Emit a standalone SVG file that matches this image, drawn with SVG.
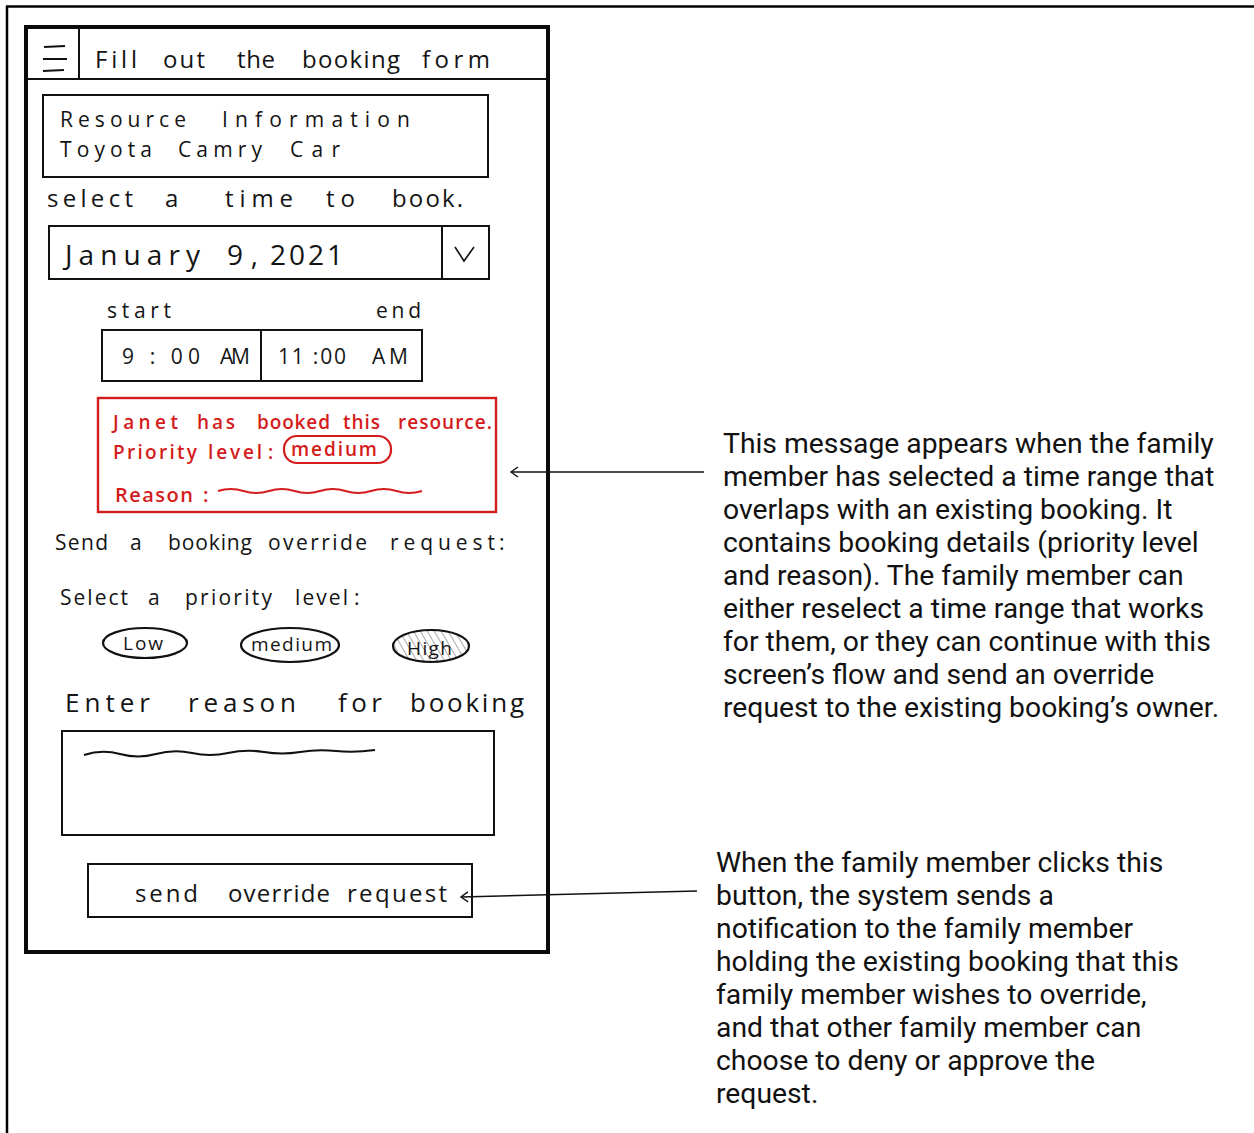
<svg xmlns="http://www.w3.org/2000/svg" width="1254" height="1133" viewBox="0 0 1254 1133">
  <style>
    .hand { font-family: "Open Sans", "DejaVu Sans", sans-serif; fill: #141414; }
    .red { fill: #d41c1c; font-weight: 600; }
    .note { font-family: Roboto, "Liberation Sans", sans-serif; font-size: 28.3px; fill: #111; }
    .box { fill: none; stroke: #111; stroke-width: 2; }
    .thick { fill: none; stroke: #0a0a0a; stroke-width: 4; }
    .wire { fill: none; stroke: #111; stroke-width: 1.6; }
    .pill { fill: none; stroke: #111; stroke-width: 2.2; }
  </style>
  <defs>
    <marker id="arrow" viewBox="-10 -6 12 12" markerWidth="12" markerHeight="12" refX="0" refY="0" orient="auto" markerUnits="userSpaceOnUse">
      <path d="M-7,-5 L0,0 L-7,5" fill="none" stroke="#111" stroke-width="1.4"/>
    </marker>
    <pattern id="hatch" width="6" height="6" patternUnits="userSpaceOnUse" patternTransform="rotate(-30)">
      <line x1="0" y1="0" x2="0" y2="6" stroke="#444" stroke-width="0.9"/>
    </pattern>
  </defs>

  <rect width="1254" height="1133" fill="#fff"/>

  <!-- page border -->
  <g id="page-border">
    <line x1="6" y1="6.5" x2="1254" y2="6.5" stroke="#000" stroke-width="2.5"/>
    <line x1="7" y1="6" x2="7" y2="1133" stroke="#000" stroke-width="2.5"/>
  </g>

  <!-- phone screen -->
  <g id="phone">
    <rect class="thick" x="26" y="27" width="522" height="925"/>
  </g>

  <g id="header">
    <line class="box" x1="27" y1="79" x2="547" y2="79"/>
    <line class="box" x1="79" y1="28" x2="79" y2="79"/>
    <line class="box" x1="44" y1="47" x2="65" y2="46"/>
    <line class="box" x1="43" y1="59" x2="67" y2="59"/>
    <line class="box" x1="43" y1="71" x2="64" y2="70"/>
    <text class="hand" font-size="24" y="68">
      <tspan x="95" textLength="42">Fill</tspan>
      <tspan x="163" textLength="42">out</tspan>
      <tspan x="237" textLength="38">the</tspan>
      <tspan x="302" textLength="98">booking</tspan>
      <tspan x="422" textLength="68">form</tspan>
    </text>
  </g>

  <g id="resource-info">
    <rect class="box" x="43" y="95" width="445" height="82"/>
    <text class="hand" font-size="21" y="127">
      <tspan x="60" textLength="126">Resource</tspan>
      <tspan x="222" textLength="188">Information</tspan>
    </text>
    <text class="hand" font-size="21" y="157">
      <tspan x="60" textLength="92">Toyota</tspan>
      <tspan x="178" textLength="84">Camry</tspan>
      <tspan x="290" textLength="50">Car</tspan>
    </text>
  </g>

  <g id="date-select">
    <text class="hand" font-size="24" y="207">
      <tspan x="47" textLength="86">select</tspan>
      <tspan x="165">a</tspan>
      <tspan x="225" textLength="68">time</tspan>
      <tspan x="326" textLength="29">to</tspan>
      <tspan x="392" textLength="71">book.</tspan>
    </text>
    <rect class="box" x="49" y="226" width="440" height="53"/>
    <line class="box" x1="442" y1="226" x2="442" y2="279"/>
    <path class="wire" d="M455,247 L464,261 L474,247"/>
    <text class="hand" font-size="28" y="265">
      <tspan x="65" textLength="135">January</tspan>
      <tspan x="227" textLength="31">9,</tspan>
      <tspan x="270" textLength="73">2021</tspan>
    </text>
  </g>

  <g id="time-range">
    <text class="hand" font-size="21" y="318">
      <tspan x="107" textLength="64">start</tspan>
      <tspan x="376" textLength="45">end</tspan>
    </text>
    <rect class="box" x="102" y="330" width="320" height="51"/>
    <line class="box" x1="261" y1="330" x2="261" y2="381"/>
    <text class="hand" font-size="21" y="364">
      <tspan x="122" textLength="78">9 : 00</tspan>
      <tspan x="220" textLength="30">AM</tspan>
      <tspan x="278" textLength="68">11 :00</tspan>
      <tspan x="372" textLength="36">AM</tspan>
    </text>
  </g>

  <g id="conflict-message">
    <rect x="98" y="398" width="398" height="114" fill="none" stroke="#d41c1c" stroke-width="2.4"/>
    <text class="hand red" font-size="19" y="429">
      <tspan x="113" textLength="65">Janet</tspan>
      <tspan x="197" textLength="38">has</tspan>
      <tspan x="257" textLength="73">booked</tspan>
      <tspan x="343" textLength="37">this</tspan>
      <tspan x="398" textLength="94">resource.</tspan>
    </text>
    <text class="hand red" font-size="19" y="459">
      <tspan x="113" textLength="84">Priority</tspan>
      <tspan x="208" textLength="54">level</tspan>
      <tspan x="268">:</tspan>
    </text>
    <rect x="284" y="436" width="107" height="27" rx="13" fill="none" stroke="#d41c1c" stroke-width="2.2"/>
    <text class="hand red" font-size="19" x="291" y="456" textLength="86">medium</text>
    <text class="hand red" font-size="20" y="502">
      <tspan x="115" textLength="78">Reason</tspan>
      <tspan x="203">:</tspan>
    </text>
    <path d="M218,491 q12.75,-4 25.5,0 t25.5,0 t25.5,0 t25.5,0 t25.5,0 t25.5,0 t25.5,0 t25.5,0" fill="none" stroke="#d41c1c" stroke-width="2"/>
  </g>

  <g id="override-section">
    <text class="hand" font-size="21" y="550">
      <tspan x="55" textLength="53">Send</tspan>
      <tspan x="130">a</tspan>
      <tspan x="168" textLength="84">booking</tspan>
      <tspan x="268" textLength="99">override</tspan>
      <tspan x="390" textLength="105">request</tspan>
      <tspan x="499">:</tspan>
    </text>
    <text class="hand" font-size="21" y="605">
      <tspan x="60" textLength="68">Select</tspan>
      <tspan x="148">a</tspan>
      <tspan x="185" textLength="87">priority</tspan>
      <tspan x="295" textLength="53">level</tspan>
      <tspan x="354">:</tspan>
    </text>
  </g>

  <g id="priority-options">
    <ellipse class="pill" cx="145" cy="643" rx="42" ry="15"/>
    <text class="hand" font-size="19" x="123" y="650" textLength="40">Low</text>
    <ellipse class="pill" cx="290" cy="645" rx="49" ry="17"/>
    <text class="hand" font-size="19" x="251" y="651" textLength="81">medium</text>
    <ellipse cx="431" cy="646" rx="38" ry="16" fill="url(#hatch)" stroke="#111" stroke-width="2.2"/>
    <text class="hand" font-size="19" x="407" y="655" textLength="45">High</text>
  </g>

  <g id="reason-input">
    <text class="hand" font-size="26" y="712">
      <tspan x="65" textLength="85">Enter</tspan>
      <tspan x="188" textLength="108">reason</tspan>
      <tspan x="338" textLength="44">for</tspan>
      <tspan x="410" textLength="114">booking</tspan>
    </text>
    <rect class="box" x="62" y="731" width="432" height="104"/>
    <path d="M84,755 q18,-6 36,-1 t36,0 t36,-1 t36,0 t36,-1 t36,0 t36,-1 t39,-1" fill="none" stroke="#111" stroke-width="2"/>
  </g>

  <g id="send-button">
    <rect class="box" x="88" y="864" width="384" height="53"/>
    <text class="hand" font-size="24" y="902">
      <tspan x="135" textLength="63">send</tspan>
      <tspan x="228" textLength="102">override</tspan>
      <tspan x="347" textLength="100">request</tspan>
    </text>
  </g>

  <!-- callout connectors -->
  <g id="connectors">
    <line x1="704" y1="472" x2="511" y2="472" class="wire" stroke-width="1.5" marker-end="url(#arrow)"/>
    <line x1="697" y1="891" x2="461" y2="897" class="wire" stroke-width="1.5" marker-end="url(#arrow)"/>
  </g>

  <g id="note-conflict">
    <text class="note" x="723" y="453">This message appears when the family</text>
    <text class="note" x="723" y="486">member has selected a time range that</text>
    <text class="note" x="723" y="519">overlaps with an existing booking. It</text>
    <text class="note" x="723" y="552">contains booking details (priority level</text>
    <text class="note" x="723" y="585">and reason). The family member can</text>
    <text class="note" x="723" y="618">either reselect a time range that works</text>
    <text class="note" x="723" y="651">for them, or they can continue with this</text>
    <text class="note" x="723" y="684">screen’s flow and send an override</text>
    <text class="note" x="723" y="717">request to the existing booking’s owner.</text>
  </g>

  <g id="note-send">
    <text class="note" x="716" y="872">When the family member clicks this</text>
    <text class="note" x="716" y="905">button, the system sends a</text>
    <text class="note" x="716" y="938">notification to the family member</text>
    <text class="note" x="716" y="971">holding the existing booking that this</text>
    <text class="note" x="716" y="1004">family member wishes to override,</text>
    <text class="note" x="716" y="1037">and that other family member can</text>
    <text class="note" x="716" y="1070">choose to deny or approve the</text>
    <text class="note" x="716" y="1103">request.</text>
  </g>
</svg>
